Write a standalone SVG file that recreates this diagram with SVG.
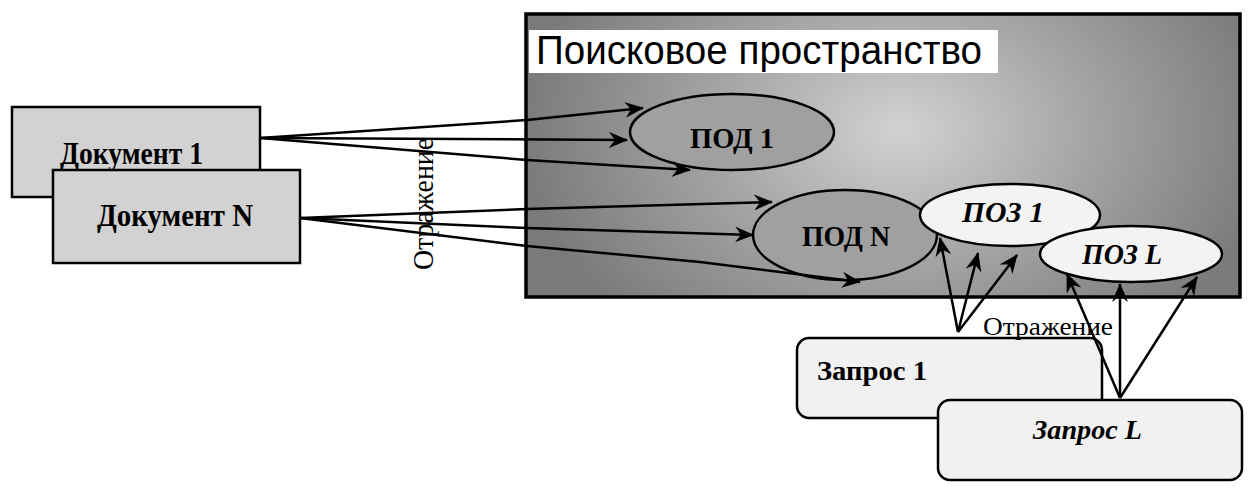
<svg xmlns="http://www.w3.org/2000/svg" width="1260" height="496" viewBox="0 0 1260 496">
<style>
.box{stroke:#000;stroke-width:2.5}
.doc{fill:#d2d2d2}
.qry{fill:#f1f1f1}
.pod{fill:#a0a0a0;stroke:#000;stroke-width:2.5}
.poz{fill:#f3f3f3;stroke:#000;stroke-width:2.5}
.lbl{font-family:"Liberation Serif","Times New Roman",serif;font-weight:bold;fill:#000}
.it{font-style:italic}
.ref{font-family:"Liberation Serif","Times New Roman",serif;fill:#000}
.con{fill:none;stroke:#000;stroke-width:2.5;stroke-linejoin:round}
</style>
<defs>
<radialGradient id="space" gradientUnits="userSpaceOnUse" cx="900" cy="130" r="380" gradientTransform="translate(900 130) scale(1 0.7) translate(-900 -130)">
<stop offset="0" stop-color="#d2d2d2"/>
<stop offset="0.5" stop-color="#a4a4a4"/>
<stop offset="1" stop-color="#7a7a7a"/>
</radialGradient>
<marker id="ah" markerUnits="userSpaceOnUse" markerWidth="20" markerHeight="16" viewBox="0 0 20 16" refX="18" refY="8" orient="auto">
<path d="M0,0 L19,8 L0,16 L6,8 Z" fill="#000"/>
</marker>
</defs>
<rect width="1260" height="496" fill="#fff"/>

<g id="search-space">
<rect x="526" y="14" width="714" height="283" fill="url(#space)" stroke="#000" stroke-width="3.5"/>
<rect x="529" y="30" width="469" height="43" fill="#fff"/>
<text x="536" y="64" font-family="'Liberation Sans',Arial,sans-serif" font-size="40" textLength="446" lengthAdjust="spacingAndGlyphs">Поисковое  пространство</text>
</g>

<g id="pod1">
<ellipse cx="732" cy="132" rx="102" ry="38" class="pod" fill="#ababab"/>
<text x="690" y="148" class="lbl" font-size="30" textLength="84" lengthAdjust="spacingAndGlyphs">ПОД 1</text>
</g>
<g id="podN">
<ellipse cx="845" cy="235" rx="92" ry="45" class="pod"/>
<text x="802" y="246" class="lbl" font-size="30" textLength="88" lengthAdjust="spacingAndGlyphs">ПОД N</text>
</g>
<g id="poz1">
<ellipse cx="1010" cy="215" rx="90" ry="31" class="poz"/>
<text x="962" y="222" class="lbl it" font-size="29" textLength="82" lengthAdjust="spacingAndGlyphs">ПОЗ 1</text>
</g>
<g id="pozL">
<ellipse cx="1131" cy="254" rx="91" ry="28" class="poz"/>
<text x="1082" y="264" class="lbl it" font-size="29" textLength="80" lengthAdjust="spacingAndGlyphs">ПОЗ L</text>
</g>

<g id="doc1">
<rect x="12" y="107" width="248" height="90" class="box doc"/>
<text x="60" y="164" class="lbl" font-size="31" textLength="143" lengthAdjust="spacingAndGlyphs">Документ 1</text>
</g>
<g id="docN">
<rect x="53" y="170" width="247" height="93" class="box doc"/>
<text x="97" y="226" class="lbl" font-size="31" textLength="156" lengthAdjust="spacingAndGlyphs">Документ N</text>
</g>

<g id="query1">
<rect x="797" y="338" width="305" height="80" rx="12" class="box qry"/>
<text x="817" y="380" class="lbl" font-size="28" textLength="110" lengthAdjust="spacingAndGlyphs">Запрос 1</text>
</g>
<g id="queryL">
<rect x="938" y="400" width="304" height="80" rx="12" class="box qry"/>
<text x="1033" y="439" class="lbl it" font-size="28" textLength="109" lengthAdjust="spacingAndGlyphs">Запрос L</text>
</g>

<g id="labels">
<text class="ref" font-size="29" transform="translate(433 270) rotate(-90)" textLength="132" lengthAdjust="spacingAndGlyphs">Отражение</text>
<text x="983" y="335" class="ref" font-size="25" textLength="130" lengthAdjust="spacingAndGlyphs">Отражение</text>
</g>

<g id="connectors">
<path class="con" marker-end="url(#ah)" d="M260,138 L527,120 L643,108"/>
<path class="con" marker-end="url(#ah)" d="M260,138 L627,140"/>
<path class="con" marker-end="url(#ah)" d="M260,138 L527,160 L690,170"/>
<path class="con" marker-end="url(#ah)" d="M300,218 L527,209 L772,202"/>
<path class="con" marker-end="url(#ah)" d="M300,218 L527,228 L753,235"/>
<path class="con" marker-end="url(#ah)" d="M300,218 L527,246 L700,262 L860,282"/>
<path class="con" marker-end="url(#ah)" d="M958,332 L940,238"/>
<path class="con" marker-end="url(#ah)" d="M958,332 L978,253"/>
<path class="con" marker-end="url(#ah)" d="M958,332 L1017,255"/>
<path class="con" marker-end="url(#ah)" d="M1120,398 L1067,274"/>
<path class="con" marker-end="url(#ah)" d="M1120,398 L1120,284"/>
<path class="con" marker-end="url(#ah)" d="M1120,398 L1197,277"/>
</g>
</svg>
